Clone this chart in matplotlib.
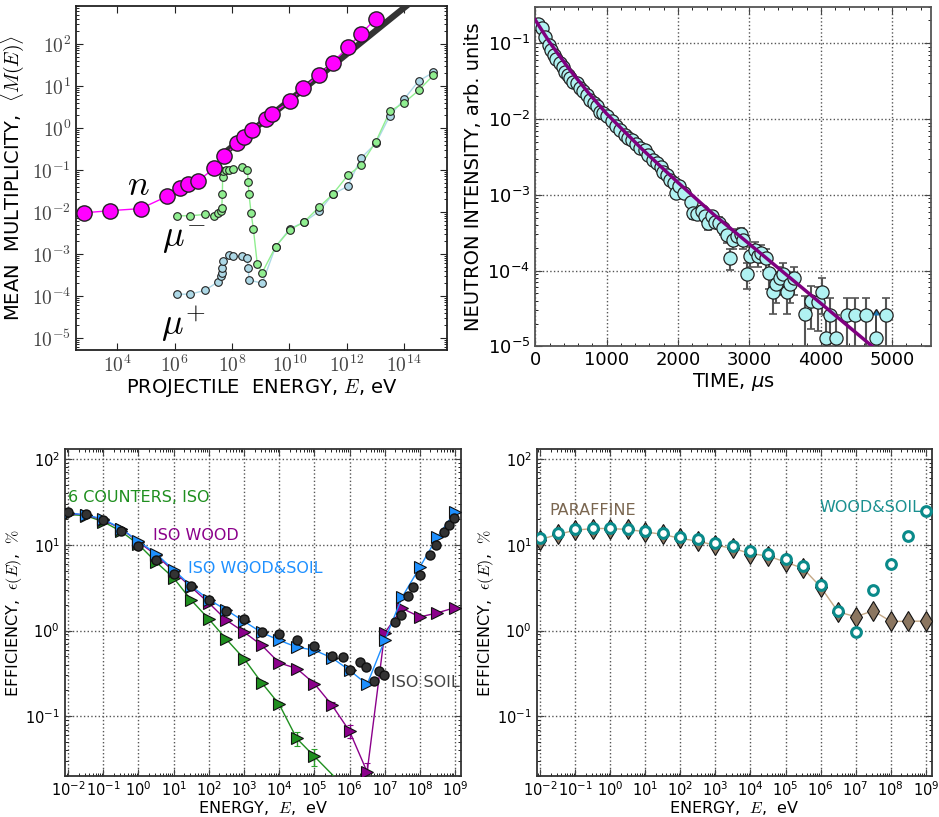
import numpy as np
import matplotlib
matplotlib.use("Agg")
import matplotlib.pyplot as plt
from matplotlib.ticker import FuncFormatter, LogLocator, NullFormatter

plt.rcParams['axes.unicode_minus'] = False
plt.rcParams['xtick.direction'] = 'in'
plt.rcParams['ytick.direction'] = 'in'
plt.rcParams['xtick.top'] = True
plt.rcParams['ytick.right'] = True
plt.rcParams['xtick.major.size'] = 5
plt.rcParams['ytick.major.size'] = 5
plt.rcParams['xtick.minor.size'] = 2.5
plt.rcParams['ytick.minor.size'] = 2.5

# ---- panel 1: mean multiplicity vs projectile energy (log10 E, value) ----
n_logE = [2.82, 3.74, 4.81, 5.74, 6.18, 6.47, 6.80, 7.38, 7.73, 8.18, 8.42,
          8.70, 9.17, 9.40, 10.02, 10.48, 11.04, 11.50, 12.03, 12.49, 13.01]
n_mult = [0.0095, 0.0107, 0.012, 0.0236, 0.037, 0.047, 0.054, 0.11, 0.22, 0.44, 0.61,
          0.87, 1.66, 2.19, 4.3, 8.9, 18.7, 36, 83, 173, 400]

mum_logE = [6.07, 6.53, 7.05, 7.37, 7.52, 7.60, 7.64, 7.66, 7.67, 7.69, 7.79, 7.90, 8.04,
            8.36, 8.53, 8.56, 8.59, 8.66, 8.74, 8.88, 9.05, 9.52, 10.02, 10.50, 11.04,
            11.50, 12.03, 12.49, 13.01, 13.50, 14.00, 14.50, 15.01]
mum_mult = [0.0081, 0.0081, 0.0087, 0.0081, 0.0095, 0.0105, 0.0125, 0.026, 0.067, 0.095, 0.10,
            0.102, 0.105, 0.118, 0.102, 0.051, 0.026, 0.0096, 0.0040, 0.00056, 0.00036,
            0.0015, 0.0038, 0.0057, 0.0132, 0.026, 0.074, 0.129, 0.47, 2.5, 4.0, 7.8, 17.8]

mup_logE = [6.07, 6.53, 7.05, 7.52, 7.60, 7.64, 7.66, 7.69, 7.90, 8.04, 8.36, 8.53, 8.56,
            8.59, 9.05, 9.52, 10.02, 10.50, 11.04, 11.50, 12.03, 12.49, 13.01, 13.50,
            14.00, 14.50, 15.01]
mup_mult = [1.1e-4, 1.1e-4, 1.35e-4, 2.2e-4, 3.0e-4, 3.5e-4, 4.7e-4, 6.8e-4, 9.6e-4, 8.7e-4,
            8.7e-4, 8.0e-4, 4.7e-4, 2.4e-4, 2.0e-4, 1.5e-3, 4.0e-3, 5.7e-3, 1.04e-2, 2.6e-2,
            4.1e-2, 0.19, 0.43, 1.95, 4.9, 13, 21]

fit_logE = [7.6, 14.3]
fit_mult = [0.215, 1070]

# ---- panel 2: neutron intensity vs time ----
t_early = [33, 93, 140, 186, 219, 256, 294, 340, 382, 419, 452, 489, 536, 582, 629, 675,
           722, 769, 825, 862, 909, 955, 1011, 1072, 1132, 1188, 1258, 1305, 1352, 1412,
           1468, 1538, 1584, 1645, 1701, 1757, 1794, 1841, 1887, 1943, 1971, 2018, 2083]
i_early = [0.18, 0.158, 0.122, 0.095, 0.082, 0.070, 0.0615, 0.0545, 0.049, 0.042, 0.038,
           0.0345, 0.031, 0.0296, 0.026, 0.0237, 0.0208, 0.0179, 0.0165, 0.0149, 0.0125,
           0.0119, 0.011, 0.0094, 0.0081, 0.0072, 0.0062, 0.0056, 0.0053, 0.0047, 0.0041,
           0.0039, 0.0034, 0.0029, 0.0026, 0.00235, 0.0020, 0.0018, 0.00157, 0.00145,
           0.00105, 0.00129, 0.00105]
t_tail = [2176, 2213, 2269, 2330, 2376, 2423, 2470, 2516, 2577, 2623, 2680, 2726, 2773, 2819,
          2880, 2913, 2969, 3015, 3076, 3122, 3169, 3229, 3276, 3332, 3378, 3425, 3472, 3528,
          3574, 3621, 3775, 3868, 3961, 4022, 4069, 4124, 4218, 4367, 4474, 4627, 4917]
i_tail = [8.1e-4, 5.7e-4, 5.6e-4, 6.2e-4, 5.2e-4, 4.2e-4, 5.3e-4, 4.4e-4, 4.3e-4, 3.6e-4,
          2.96e-4, 1.46e-4, 2.5e-4, 2.9e-4, 3.0e-4, 2.5e-4, 9.1e-5, 1.57e-4, 1.88e-4, 1.57e-4,
          1.73e-4, 1.46e-4, 9.3e-5, 5.3e-5, 6.6e-5, 8.0e-5, 9.1e-5, 5.3e-5, 6.6e-5, 8.0e-5,
          2.67e-5, 4.0e-5, 3.8e-5, 5.3e-5, 1.31e-5, 2.61e-5, 1.31e-5, 2.61e-5, 2.61e-5,
          2.61e-5, 2.61e-5]
e_tail = [1.0e-4, 8.6e-5, 8.5e-5, 9.0e-5, 8.2e-5, 7.4e-5, 8.3e-5, 7.6e-5, 7.5e-5, 6.8e-5,
          6.2e-5, 4.4e-5, 5.7e-5, 6.1e-5, 6.2e-5, 5.7e-5, 3.4e-5, 4.5e-5, 4.9e-5, 4.5e-5,
          4.7e-5, 4.4e-5, 3.5e-5, 2.6e-5, 2.9e-5, 3.2e-5, 3.4e-5, 2.6e-5, 2.9e-5, 3.2e-5,
          1.9e-5, 2.3e-5, 2.2e-5, 2.6e-5, 1.3e-5, 1.8e-5, 1.3e-5, 1.8e-5, 1.8e-5, 1.8e-5,
          1.8e-5]
t_limit = [4767]
i_limit = [1.31e-5]
e_limit = [1.3e-5]

t_fit = [0, 100, 200, 350, 500, 750, 1000, 1500, 2000, 2500, 3000, 4000, 4750]
i_fit = [0.203, 0.145, 0.1035, 0.066, 0.0427, 0.0219, 0.01175, 0.00398, 0.00145,
         0.00055, 0.000224, 3.7e-5, 9.5e-6]

# ---- panels 3, 4: efficiency vs neutron energy ----
energy = [1e-2, 3.16e-2, 1e-1, 3.16e-1, 1e0, 3.16e0, 1e1, 3.16e1, 1e2, 3.16e2, 1e3, 3.16e3,
          1e4, 3.16e4, 1e5, 3.16e5, 1e6, 3.16e6, 1e7, 3.16e7, 1e8, 3.16e8, 1e9]

eff_6cnt_E = energy[:15] + [1e6]
eff_6cnt = [22.6, 21.9, 18.6, 14.4, 10.1, 6.3, 4.1, 2.26, 1.36, 0.79, 0.47, 0.247, 0.138,
            0.055, 0.034, 0.013]
err_6cnt = [0, 0, 0, 0, 0, 0, 0, 0, 0, 0, 0, 0.012, 0.01, 0.01, 0.008, 0]

eff_wood = [23.2, 22.3, 19.5, 15.5, 10.8, 7.6, 4.9, 3.2, 2.1, 1.32, 0.96, 0.675, 0.42, 0.36,
            0.24, 0.135, 0.067, 0.0224, 0.94, 1.81, 1.44, 1.61, 1.85]
err_wood = [0, 0, 0, 0, 0, 0, 0, 0, 0, 0, 0, 0, 0, 0, 0, 0.01, 0.011, 0.006, 0, 0, 0, 0, 0]

eff_woodsoil = [23.6, 22.3, 20.0, 15.5, 11.0, 7.9, 5.1, 3.3, 2.3, 1.73, 1.28, 0.95, 0.77,
                0.64, 0.59, 0.48, 0.344, 0.235, 0.77, 2.47, 5.5, 12.4, 24.3]

soil_E = energy[:16] + [6.6e5, 1e6, 2.0e6, 2.9e6, 5.0e6, 6.9e6, 9.5e6, 1.95e7, 2.9e7, 4.7e7,
                        6.5e7, 9.8e7, 1.95e8, 2.9e8, 4.7e8, 6.8e8, 9.3e8]
eff_soil = [24.3, 22.6, 19.5, 14.4, 9.7, 6.7, 4.6, 3.3, 2.3, 1.68, 1.38, 0.95, 0.91, 0.77,
            0.66, 0.51, 0.49, 0.35, 0.43, 0.38, 0.26, 0.34, 0.30, 1.26, 1.51, 2.5, 3.2, 4.4,
            7.6, 10.0, 14.1, 17.0, 20.7]

eff_paraffine = [11.5, 13.2, 14.8, 15.5, 15.5, 15.1, 14.2, 13.2, 11.9, 11.0, 9.9, 9.1, 7.9,
                 7.4, 6.3, 5.3, 3.23, 1.65, 1.45, 1.7, 1.28, 1.28, 1.29]
eff_ws = [12.1, 13.6, 15.2, 15.9, 15.9, 15.4, 14.6, 13.6, 12.4, 11.6, 10.4, 9.6, 8.5, 7.9,
          6.8, 5.6, 3.4, 1.7, 0.96, 2.95, 5.9, 12.6, 24.7]

fig = plt.figure(figsize=(9.39, 8.17), dpi=100)


def frame(ax, color='#222222'):
    for s in ax.spines.values():
        s.set_linewidth(1.3)
        s.set_color(color)


# ---------------- panel 1 ----------------
ax1 = fig.add_axes([0.081, 0.572, 0.395, 0.421])
frame(ax1)
ax1.set_xscale('log')
ax1.set_yscale('log')
ax1.plot(10.0 ** np.array(mup_logE), mup_mult, '-', color='#add8e6', lw=1, zorder=2)
ax1.plot(10.0 ** np.array(mup_logE), mup_mult, 'o', color='#add8e6', mec='#222222',
         ms=5.5, mew=0.8, zorder=3)
ax1.plot(10.0 ** np.array(mum_logE), mum_mult, '-', color='#90ee90', lw=1, zorder=2)
ax1.plot(10.0 ** np.array(mum_logE), mum_mult, 'o', color='#90ee90', mec='#222222',
         ms=5.5, mew=0.8, zorder=4)
ax1.plot(10.0 ** np.array(fit_logE), fit_mult, '-', color='#333333', lw=4.5, zorder=5,
         solid_capstyle='butt')
ax1.plot(10.0 ** np.array(n_logE), n_mult, '-', color='magenta', lw=1, zorder=6)
ax1.plot(10.0 ** np.array(n_logE), n_mult, 'o', color='magenta', mec='#222222',
         ms=11, mew=1, zorder=7)
ax1.set_xlim(10 ** 2.56, 10 ** 15.49)
ax1.set_ylim(10 ** -5.28, 10 ** 2.91)
ax1.set_xticks([1e4, 1e6, 1e8, 1e10, 1e12, 1e14])
ax1.set_yticks([1e-5, 1e-4, 1e-3, 1e-2, 1e-1, 1e0, 1e1, 1e2])
ax1.xaxis.set_minor_locator(plt.NullLocator())
ax1.yaxis.set_minor_locator(LogLocator(subs=np.arange(2, 10), numticks=20))
ax1.yaxis.set_minor_formatter(NullFormatter())
power = FuncFormatter(lambda v, p: r'$10^{%d}$' % int(round(np.log10(v))))
ax1.xaxis.set_major_formatter(power)
ax1.yaxis.set_major_formatter(power)
ax1.tick_params(labelsize=14, colors='#222222', labelcolor='#444444')
for lab in ax1.get_xticklabels() + ax1.get_yticklabels():
    lab.set_math_fontfamily('cm')
ax1.set_xlabel(r'PROJECTILE  ENERGY, $E$, eV', fontsize=14, math_fontfamily='cm',
               labelpad=1)
ax1.set_ylabel(r'MEAN  MULTIPLICITY,  $\langle M(E)\rangle$', fontsize=14,
               math_fontfamily='cm', labelpad=4)
ax1.text(0.167, 0.48, r'$n$', transform=ax1.transAxes, fontsize=26, ha='center',
         va='center', math_fontfamily='cm')
ax1.text(0.29, 0.32, r'$\mu^{-}$', transform=ax1.transAxes, fontsize=26, ha='center',
         va='center', math_fontfamily='cm')
ax1.text(0.29, 0.075, r'$\mu^{+}$', transform=ax1.transAxes, fontsize=26, ha='center',
         va='center', math_fontfamily='cm')

# ---------------- panel 2 ----------------
ax2 = fig.add_axes([0.570, 0.576, 0.422, 0.416])
frame(ax2, '#555555')
ax2.set_yscale('log')
ax2.grid(True, which='major', ls=':', color='#555555', lw=1)
ax2.errorbar(t_tail, i_tail, yerr=e_tail, fmt='none', ecolor='#555555', elinewidth=1.5,
             capsize=3, capthick=1.2, zorder=2)
ax2.errorbar(t_limit, i_limit, yerr=e_limit, lolims=True, fmt='none', ecolor='#222222',
             elinewidth=1.2, capsize=3, zorder=2)
ax2.plot(t_early + t_tail + t_limit, i_early + i_tail + i_limit, 'o', color='#b0f2f2',
         mec='#222222', ms=9.5, mew=0.9, zorder=3)
ax2.plot(t_fit, i_fit, '-', color='#800080', lw=2.5, zorder=4)
ax2.set_xlim(0, 5550)
ax2.set_ylim(1e-5, 0.305)
ax2.set_xticks([0, 1000, 2000, 3000, 4000, 5000])
ax2.xaxis.set_minor_locator(plt.MultipleLocator(200))
ax2.yaxis.set_minor_locator(LogLocator(subs=np.arange(2, 10), numticks=20))
ax2.yaxis.set_minor_formatter(NullFormatter())
ax2.tick_params(labelsize=13, colors='#444444', labelcolor='black')
ax2.set_xlabel(r'TIME, $\mu$s', fontsize=14, labelpad=1)
ax2.set_ylabel('NEUTRON INTENSITY, arb. units', fontsize=14, labelpad=3)

# ---------------- panels 3 and 4 ----------------
def energy_axes(ax):
    frame(ax, '#333333')
    ax.set_xscale('log')
    ax.set_yscale('log')
    ax.grid(True, which='major', ls=':', color='#555555', lw=1)
    ax.set_xlim(10 ** -2.095, 10 ** 9.17)
    ax.set_ylim(0.02, 130)
    ax.xaxis.set_major_locator(LogLocator(numticks=30))
    ax.xaxis.set_minor_locator(LogLocator(subs=np.arange(2, 10), numticks=30))
    ax.xaxis.set_minor_formatter(NullFormatter())
    ax.set_yticks([0.1, 1, 10, 100])
    ax.yaxis.set_minor_locator(LogLocator(subs=np.arange(2, 10), numticks=20))
    ax.yaxis.set_minor_formatter(NullFormatter())
    ax.tick_params(labelsize=10.5, colors='#444444', labelcolor='black')
    ax.tick_params(axis='x', pad=3)
    ax.set_xlabel(r'ENERGY,  $E$,  eV', fontsize=11.5, math_fontfamily='cm', labelpad=0)
    ax.set_ylabel(r'EFFICIENCY,  $\epsilon(E)$,  $\%$', fontsize=11.5,
                  math_fontfamily='cm', labelpad=1)


ax3 = fig.add_axes([0.069, 0.050, 0.422, 0.400])
energy_axes(ax3)
ax3.errorbar(eff_6cnt_E, eff_6cnt, yerr=err_6cnt, fmt='>-', color='#1f8f1f',
             mfc='#1f8f1f', mec='#111111', ms=9, mew=0.8, lw=1, elinewidth=1,
             capsize=2, ecolor='#2ca02c', zorder=3)
ax3.errorbar(energy, eff_wood, yerr=err_wood, fmt='>-', color='#8b008b', mfc='#8b008b',
             mec='#111111', ms=9, mew=0.8, lw=1, elinewidth=1, capsize=2, zorder=4)
ax3.plot(energy, eff_woodsoil, '>-', color='#1e90ff', mfc='#1e90ff', mec='#111111', ms=9,
         mew=0.8, lw=1, zorder=5)
ax3.plot(soil_E, eff_soil, 'o', color='#333333', mec='#111111', ms=6.5, zorder=6)
ax3.text(0.008, 0.854, '6 COUNTERS, ISO', transform=ax3.transAxes, color='#1f8f1f',
         fontsize=11.5, va='center')
ax3.text(0.222, 0.735, 'ISO WOOD', transform=ax3.transAxes, color='#8b008b',
         fontsize=11.5, va='center')
ax3.text(0.311, 0.634, 'ISO WOOD&SOIL', transform=ax3.transAxes, color='#1e90ff',
         fontsize=11.5, va='center')
ax3.text(0.823, 0.288, 'ISO SOIL', transform=ax3.transAxes, color='#444444',
         fontsize=11.5, va='center')

ax4 = fig.add_axes([0.5716, 0.050, 0.4207, 0.400])
energy_axes(ax4)
ax4.plot(energy, eff_paraffine, '-', color='#c4a886', lw=1, zorder=2)
ax4.plot(energy, eff_paraffine, 'd', color='#8b7660', mec='#111111', ms=10, mew=0.8,
         zorder=3)
ax4.plot(energy, eff_ws, 'o', mfc='white', mec='#0a8a8a', ms=7, mew=2.2, zorder=4)
ax4.text(0.031, 0.814, 'PARAFFINE', transform=ax4.transAxes, color='#7a6650',
         fontsize=11.5, va='center')
ax4.text(0.715, 0.823, 'WOOD&SOIL', transform=ax4.transAxes, color='#1a9090',
         fontsize=11.5, va='center')

fig.savefig('out.png', dpi=100)
